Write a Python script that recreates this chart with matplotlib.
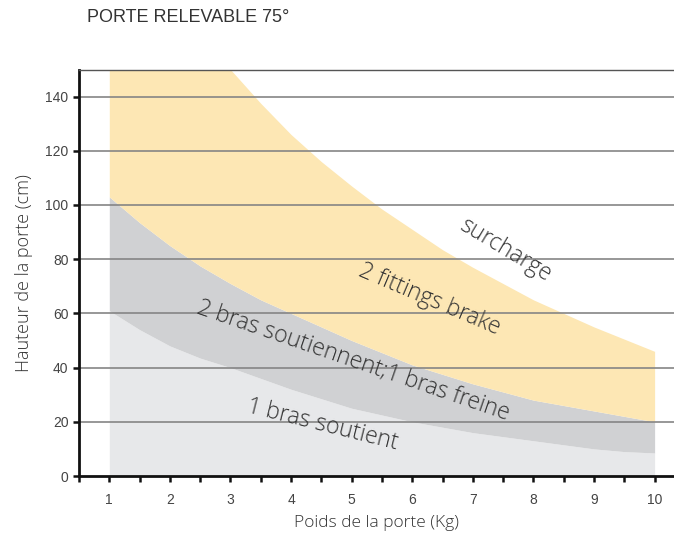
import matplotlib
matplotlib.use('Agg')
import matplotlib.pyplot as plt
from matplotlib.ticker import MultipleLocator
import numpy as np

# door weight (kg)
poids = [1, 1.5, 2, 2.5, 3, 3.5, 4, 4.5, 5, 5.5, 6, 6.5, 7, 7.5, 8, 8.5, 9, 9.5, 10]
# boundary curves (door height, cm)
un_bras = [61, 54, 48, 43.5, 40, 36, 32, 28.5, 25, 22.5, 20, 18, 16, 14.5, 13, 11.5, 10, 9, 8.5]
deux_bras = [103, 93.5, 85, 77.5, 71, 65, 60, 55, 50, 45.5, 41, 37.5, 34, 31, 28, 26, 24, 22, 20]
fittings = [215, 197, 180, 164, 150, 137.5, 126, 116, 107, 98.5, 91, 83.5, 77, 71, 65, 60, 55, 50.5, 46]

y_ticks = [0, 20, 40, 60, 80, 100, 120, 140]
x_ticks = [1, 2, 3, 4, 5, 6, 7, 8, 9, 10]

col_light = '#e7e8ea'
col_dark = '#d0d1d3'
col_yellow = '#fde7b4'
txt_col = '#333333'

fig = plt.figure(figsize=(6.74, 5.36), dpi=100)
ax = fig.add_axes([79/674, 1-476/536, 1-79/674, (476-69.5)/536])

x = np.array(poids)
ax.fill_between(x, 0, un_bras, color=col_light, lw=0, zorder=1)
ax.fill_between(x, un_bras, deux_bras, color=col_dark, lw=0, zorder=1)
ax.fill_between(x, deux_bras, fittings, color=col_yellow, lw=0, zorder=1)

# horizontal grid lines on top of the coloured bands
for yv in y_ticks[1:]:
    ax.axhline(yv, color='#858585', lw=1.2, zorder=2)

ax.set_xlim(0.5, 10.32)
ax.set_ylim(0, 150)

ax.set_xticks(x_ticks)
ax.xaxis.set_minor_locator(MultipleLocator(0.5))
ax.set_yticks(y_ticks)
ax.tick_params(axis='both', which='both', direction='out', length=4, width=1.8,
               color='#111111', labelcolor='#444444', labelsize=10)
ax.tick_params(axis='x', which='major', pad=8)
for lab in ax.get_xticklabels() + ax.get_yticklabels():
    lab.set_fontfamily('Liberation Sans')

ax.spines['left'].set_linewidth(2)
ax.spines['bottom'].set_linewidth(2)
ax.spines['left'].set_color('#111111')
ax.spines['bottom'].set_color('#111111')
ax.spines['top'].set_color('#555555')
ax.spines['top'].set_linewidth(1)
ax.spines['right'].set_visible(False)

ax.set_xlabel('Poids de la porte (Kg)', fontsize=12.5, color=txt_col,
              family='Open Sans', fontweight='light', labelpad=6)
ax.set_ylabel('Hauteur de la porte (cm)', fontsize=13, color=txt_col,
              family='Open Sans', fontweight='light', labelpad=9)

lbl = dict(fontsize=16.5, color=txt_col, family='Open Sans', fontweight='light',
           ha='center', va='center', zorder=3, rotation_mode='anchor')
ax.text(7.53, 83.4, 'surcharge', rotation=-31, **lbl)
ax.text(6.29, 65, '2 fittings brake', rotation=-23, **lbl)
ax.text(5.03, 42.8, '2 bras soutiennent;1 bras freine', rotation=-19, **lbl)
ax.text(4.52, 18.8, '1 bras soutient', rotation=-14, **lbl)

fig.text(87/674, 1-18/536, 'PORTE RELEVABLE 75°', fontsize=13, color=txt_col,
         family='Liberation Sans', ha='left', va='center')

fig.savefig('out.png', dpi=100)
